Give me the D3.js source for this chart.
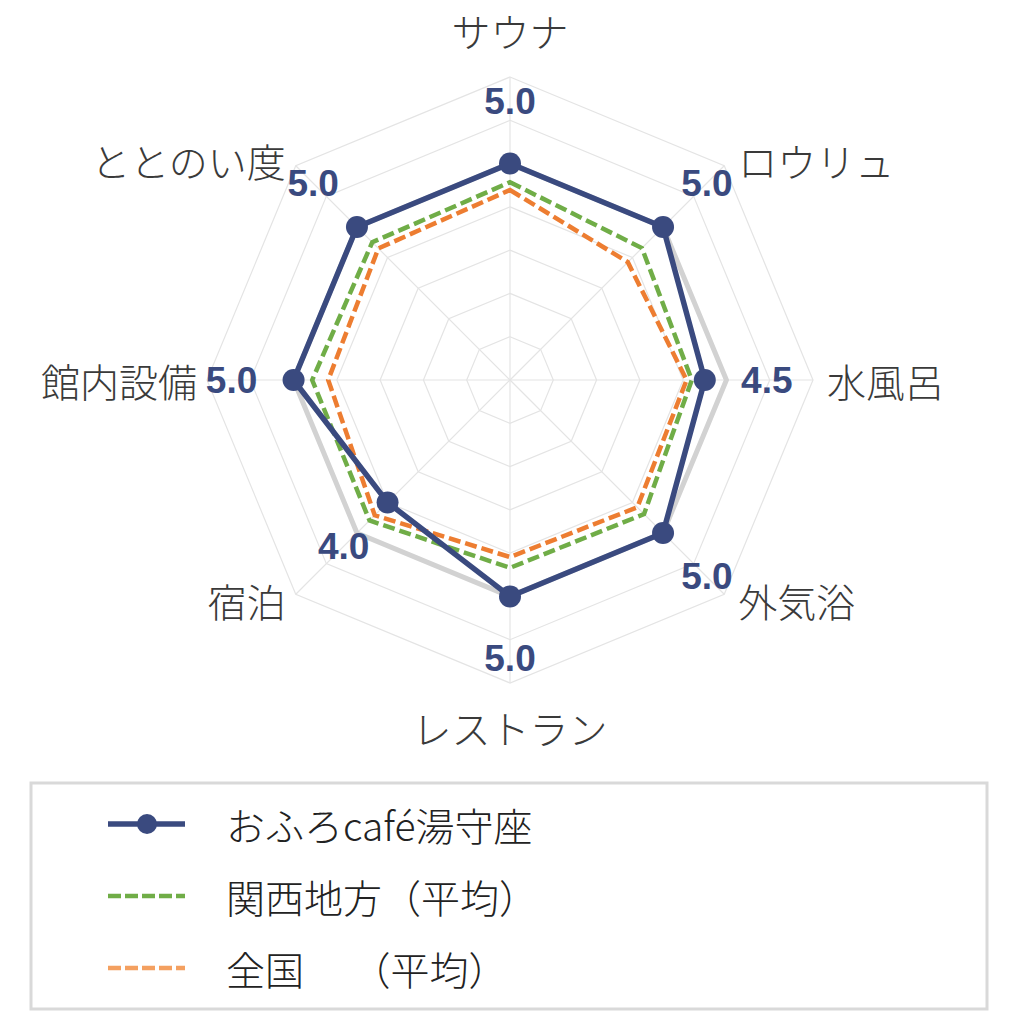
<!DOCTYPE html>
<html>
<head>
<meta charset="utf-8">
<script src="https://cdn.jsdelivr.net/npm/d3@7"></script>
<style>
    body { margin: 0; background: #fff; }
</style>
</head>
<body>
<div id="radar"></div>
<script>
const categories = ["サウナ", "ロウリュ", "水風呂", "外気浴", "レストラン", "宿泊", "館内設備", "ととのい度"];
const yumoriza = [5.0, 5.0, 4.5, 5.0, 5.0, 4.0, 5.0, 5.0];
const kansai = [4.57, 4.31, 4.2, 4.38, 4.34, 4.59, 4.57, 4.5];
const national = [4.39, 3.85, 4.08, 4.16, 4.09, 4.42, 4.2, 4.3];
const shadow = [5, 5, 5, 5, 5, 5, 5, 5];
const ringLevels = [1, 2, 3, 4, 5, 6, 7];
const seriesNames = ["おふろcafé湯守座", "関西地方（平均）", "全国　 （平均）"];

const width = 1024,
    height = 1024,
    cx = 510,
    cy = 380,
    outer = 303;

const navy = "#3a4a7f",
    green = "#70ad47",
    orange = "#ed7d31";

const svg = d3.select("#radar")
    .append("svg")
    .attr("width", width)
    .attr("height", height);

const g = svg.append("g")
    .attr("transform", `translate(${cx},${cy})`);

const r = d3.scaleLinear()
    .domain([0, 7])
    .range([0, outer]);

// angle for each category, starting at the top, clockwise
const angle = d3.scalePoint()
    .domain(categories)
    .range([0, 2 * Math.PI * (categories.length - 1) / categories.length]);

const px = (c, v) => r(v) * Math.sin(angle(c));
const py = (c, v) => -r(v) * Math.cos(angle(c));

// grid rings
ringLevels.forEach(lv => {
    g.append("polygon")
        .attr("points", categories.map(c => [px(c, lv), py(c, lv)].join(",")).join(" "))
        .attr("fill", "none")
        .attr("stroke", "#e4e4e4")
        .attr("stroke-width", 1.2);
});

// spokes
g.selectAll("line.spoke")
    .data(categories)
    .enter()
    .append("line")
    .attr("class", "spoke")
    .attr("x1", 0)
    .attr("y1", 0)
    .attr("x2", d => px(d, 7))
    .attr("y2", d => py(d, 7))
    .attr("stroke", "#e4e4e4")
    .attr("stroke-width", 1.2);

const radarLine = d3.lineRadial()
    .angle((d, i) => angle(categories[i]))
    .radius(d => r(d))
    .curve(d3.curveLinearClosed);

// light grey line under everything
g.append("path")
    .attr("d", radarLine(shadow))
    .attr("fill", "none")
    .attr("stroke", "#d2d2d2")
    .attr("stroke-width", 5);

g.append("path")
    .attr("d", radarLine(kansai))
    .attr("fill", "none")
    .attr("stroke", green)
    .attr("stroke-width", 4.5)
    .attr("stroke-dasharray", "12,5");

g.append("path")
    .attr("d", radarLine(national))
    .attr("fill", "none")
    .attr("stroke", orange)
    .attr("stroke-width", 4.5)
    .attr("stroke-dasharray", "12,5");

g.append("path")
    .attr("d", radarLine(yumoriza))
    .attr("fill", "none")
    .attr("stroke", navy)
    .attr("stroke-width", 5.5)
    .attr("stroke-linejoin", "round");

g.selectAll("circle.pt")
    .data(yumoriza)
    .enter()
    .append("circle")
    .attr("class", "pt")
    .attr("cx", (d, i) => px(categories[i], d))
    .attr("cy", (d, i) => py(categories[i], d))
    .attr("r", 11)
    .attr("fill", navy);

// value labels
g.selectAll("text.val")
    .data(yumoriza)
    .enter()
    .append("text")
    .attr("class", "val")
    .attr("x", (d, i) => (r(d) + 62) * Math.sin(angle(categories[i])))
    .attr("y", (d, i) => -(r(d) + 62) * Math.cos(angle(categories[i])))
    .attr("text-anchor", "middle")
    .attr("dominant-baseline", "central")
    .style("font-family", "'Liberation Sans', Arial, sans-serif")
    .style("font-weight", "bold")
    .style("font-size", "37px")
    .attr("fill", navy)
    .text(d => d.toFixed(1));

// category labels
g.selectAll("text.cat")
    .data(categories)
    .enter()
    .append("text")
    .attr("class", "cat")
    .each(function (c) {
        const s = Math.sin(angle(c)),
            co = Math.cos(angle(c));
        const x = px(c, 7),
            y = py(c, 7);
        const t = d3.select(this);
        if (Math.abs(s) < 0.01) {
            t.attr("x", x)
                .attr("y", y + (co > 0 ? -47 : 44))
                .attr("text-anchor", "middle");
        } else {
            t.attr("x", x + (s > 0 ? 14 : -10))
                .attr("y", y - co * 8)
                .attr("text-anchor", s > 0 ? "start" : "end");
        }
    })
    .attr("dominant-baseline", "central")
    .style("font-family", "'Noto Sans CJK JP', sans-serif")
    .style("font-weight", 300)
    .style("font-size", "39px")
    .attr("fill", "#3a3a3a")
    .text(c => c);

// legend
const legend = svg.append("g");

legend.append("rect")
    .attr("x", 31)
    .attr("y", 783)
    .attr("width", 956)
    .attr("height", 226)
    .attr("fill", "#fff")
    .attr("stroke", "#d9d9d9")
    .attr("stroke-width", 3);

const legendItems = [
    { name: seriesNames[0], color: navy, dash: null, marker: true, width: 5.5 },
    { name: seriesNames[1], color: green, dash: "13,4", marker: false, width: 4.5 },
    { name: seriesNames[2], color: "#f4a060", dash: "13,4", marker: false, width: 4.5 }
];
const legendY = d3.scalePoint()
    .domain(seriesNames)
    .range([824, 968]);

legendItems.forEach(item => {
    const y = legendY(item.name);
    legend.append("line")
        .attr("x1", 108)
        .attr("x2", 185)
        .attr("y1", y)
        .attr("y2", y)
        .attr("stroke", item.color)
        .attr("stroke-width", item.width)
        .attr("stroke-dasharray", item.dash);
    if (item.marker) {
        legend.append("circle")
            .attr("cx", 147)
            .attr("cy", y)
            .attr("r", 10)
            .attr("fill", item.color);
    }
    legend.append("text")
        .attr("x", 226)
        .attr("y", y)
        .attr("dominant-baseline", "central")
        .style("font-family", "'Noto Sans CJK JP', sans-serif")
        .style("font-weight", 300)
        .style("font-size", "39px")
        .attr("fill", "#222")
        .text(item.name);
});
</script>
</body>
</html>
